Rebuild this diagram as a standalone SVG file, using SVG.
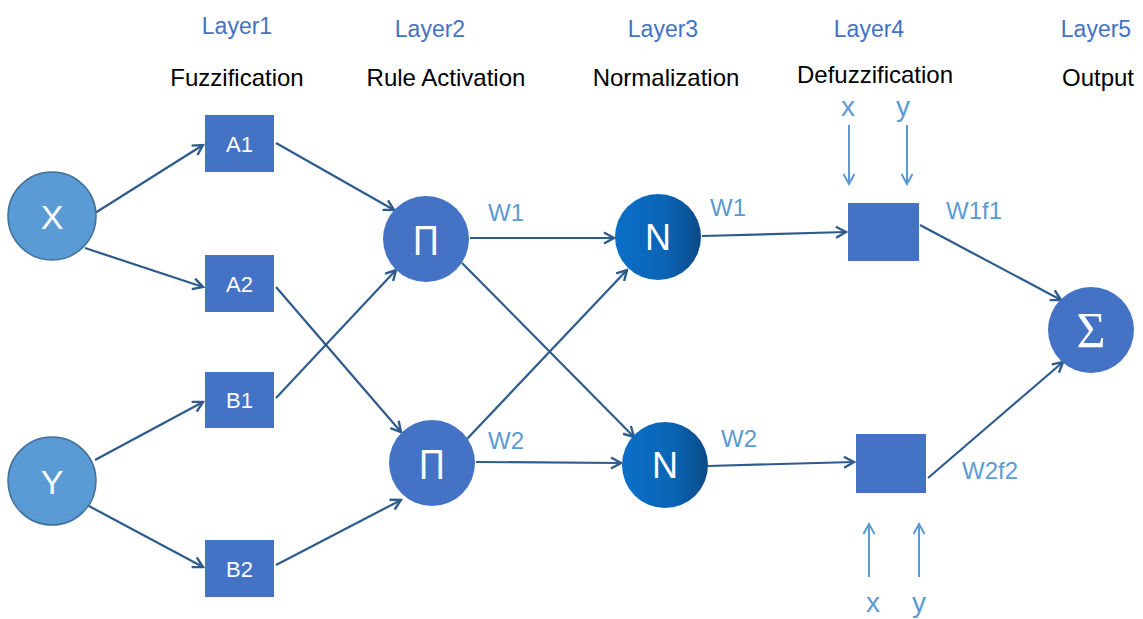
<svg xmlns="http://www.w3.org/2000/svg" width="1143" height="619" viewBox="0 0 1143 619">
<style>
.layer{font-family:"Liberation Sans",Arial,sans-serif;font-size:23px;fill:#4472c4;text-anchor:middle}
.title{font-family:"Liberation Sans",Arial,sans-serif;font-size:24px;fill:#000;text-anchor:middle}
.lbl{font-family:"Liberation Sans",Arial,sans-serif;font-size:24px;fill:#5b9bd5}
.xy{font-family:"Liberation Sans",Arial,sans-serif;font-size:28px;fill:#5b9bd5;text-anchor:middle}
.inp{fill:#5b9bd5;stroke:#41719c;stroke-width:1.5}
.box{fill:#4472c4}
.prod{fill:#4472c4}
.wt{font-family:"Liberation Sans",Arial,sans-serif;fill:#fff;text-anchor:middle}
.conn{stroke:#2d5b8c;stroke-width:2.2;fill:none;marker-end:url(#arr)}
.side{stroke:#5b9bd5;stroke-width:2;fill:none;marker-end:url(#arr2)}
</style>
<defs>
<marker id="arr" markerUnits="userSpaceOnUse" markerWidth="14" markerHeight="14" refX="12" refY="7" orient="auto">
<path d="M2,1.5 L12,7 L2,12.5" fill="none" stroke="#2d5b8c" stroke-width="2.4"/>
</marker>
<marker id="arr2" markerUnits="userSpaceOnUse" markerWidth="14" markerHeight="14" refX="12" refY="7" orient="auto">
<path d="M2,1.5 L12,7 L2,12.5" fill="none" stroke="#5b9bd5" stroke-width="2"/>
</marker>
<linearGradient id="ng" x1="0" y1="0" x2="1" y2="0">
<stop offset="0" stop-color="#0b6fc9"/>
<stop offset="0.6" stop-color="#0a64b4"/>
<stop offset="1" stop-color="#0a4a86"/>
</linearGradient>
</defs>

<g id="headers">
<text class="layer" x="237" y="34">Layer1</text>
<text class="title" x="237" y="86">Fuzzification</text>
<text class="layer" x="430" y="37">Layer2</text>
<text class="title" x="446" y="86">Rule Activation</text>
<text class="layer" x="663" y="37">Layer3</text>
<text class="title" x="666" y="86">Normalization</text>
<text class="layer" x="869" y="37">Layer4</text>
<text class="title" x="875" y="83">Defuzzification</text>
<text class="layer" x="1096" y="37">Layer5</text>
<text class="title" x="1098" y="86">Output</text>
</g>

<g id="connectors">
<line class="conn" x1="95" y1="213" x2="203" y2="145"/>
<line class="conn" x1="85" y1="248" x2="203" y2="287"/>
<line class="conn" x1="95" y1="460" x2="203" y2="402"/>
<line class="conn" x1="87" y1="505" x2="203" y2="567"/>
<line class="conn" x1="276" y1="143" x2="394" y2="210"/>
<line class="conn" x1="276" y1="287" x2="401" y2="432"/>
<line class="conn" x1="276" y1="398" x2="396" y2="270"/>
<line class="conn" x1="276" y1="565" x2="401" y2="500"/>
<line class="conn" x1="470" y1="238" x2="614" y2="238"/>
<line class="conn" x1="462" y1="263" x2="634" y2="437"/>
<line class="conn" x1="466" y1="440" x2="627" y2="270"/>
<line class="conn" x1="476" y1="462" x2="621" y2="463"/>
<line class="conn" x1="702" y1="236" x2="846" y2="232"/>
<line class="conn" x1="708" y1="466" x2="854" y2="462"/>
<line class="conn" x1="920" y1="225" x2="1061" y2="300"/>
<line class="conn" x1="928" y1="478" x2="1063" y2="362"/>
<line class="side" x1="849" y1="125" x2="849" y2="184"/>
<line class="side" x1="907" y1="125" x2="907" y2="184"/>
<line class="side" x1="869" y1="577" x2="869" y2="524"/>
<line class="side" x1="919" y1="577" x2="919" y2="524"/>
</g>

<g id="labels">
<text class="lbl" x="488" y="221">W1</text>
<text class="lbl" x="710" y="216">W1</text>
<text class="lbl" x="488" y="449">W2</text>
<text class="lbl" x="721" y="447">W2</text>
<text class="lbl" x="946" y="219">W1f1</text>
<text class="lbl" x="962" y="479">W2f2</text>
<text class="xy" x="848" y="116">x</text>
<text class="xy" x="903" y="116">y</text>
<text class="xy" x="873" y="612">x</text>
<text class="xy" x="919" y="612">y</text>
</g>

<g id="nodeX"><circle class="inp" cx="52" cy="216" r="44"/><text class="wt" x="52" y="229" font-size="34">X</text></g>
<g id="nodeY"><circle class="inp" cx="52" cy="481" r="44"/><text class="wt" x="52" y="494" font-size="34">Y</text></g>

<g id="nodeA1"><rect class="box" x="205" y="115" width="69" height="57"/><text class="wt" x="239.5" y="152" font-size="22">A1</text></g>
<g id="nodeA2"><rect class="box" x="205" y="255" width="69" height="57"/><text class="wt" x="239.5" y="292" font-size="22">A2</text></g>
<g id="nodeB1"><rect class="box" x="205" y="372" width="69" height="56"/><text class="wt" x="239.5" y="408" font-size="22">B1</text></g>
<g id="nodeB2"><rect class="box" x="205" y="540" width="69" height="57"/><text class="wt" x="239.5" y="577" font-size="22">B2</text></g>

<g id="nodePi1"><circle class="prod" cx="426" cy="239" r="43"/><text class="wt" x="426" y="255" font-size="42" transform="translate(426 0) scale(0.85 1) translate(-426 0)">Π</text></g>
<g id="nodePi2"><circle class="prod" cx="432" cy="463" r="43"/><text class="wt" x="432" y="479" font-size="42" transform="translate(432 0) scale(0.85 1) translate(-432 0)">Π</text></g>

<g id="nodeN1"><circle cx="658" cy="237" r="43" fill="url(#ng)"/><text class="wt" x="658" y="250" font-size="36">N</text></g>
<g id="nodeN2"><circle cx="665" cy="465" r="43" fill="url(#ng)"/><text class="wt" x="665" y="478" font-size="36">N</text></g>

<g id="nodeD1"><rect class="box" x="848" y="203" width="71" height="58"/></g>
<g id="nodeD2"><rect class="box" x="856" y="434" width="70" height="59"/></g>

<g id="nodeSum"><circle class="prod" cx="1091" cy="330" r="43"/><text x="1091" y="347" font-family="'Liberation Serif','DejaVu Serif',serif" font-size="50" fill="#fff" text-anchor="middle">Σ</text></g>
</svg>
